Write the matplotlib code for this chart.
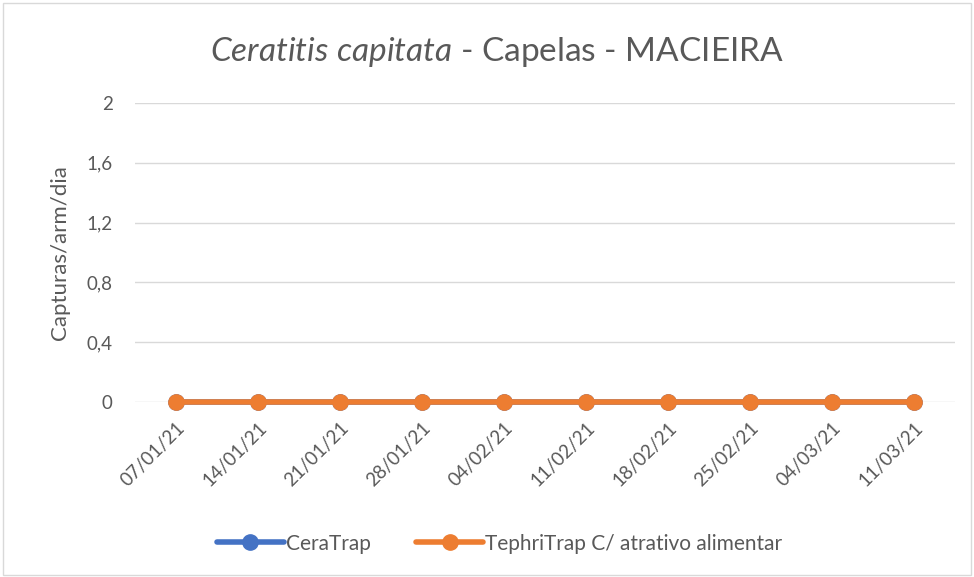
import matplotlib
matplotlib.use("Agg")
import matplotlib.pyplot as plt
from matplotlib.patches import Rectangle

plt.rcParams['font.family'] = ['Lato', 'DejaVu Sans']
plt.rcParams['mathtext.fontset'] = 'custom'
plt.rcParams['mathtext.rm'] = 'Lato'
plt.rcParams['mathtext.it'] = 'Lato:italic'

# data
dates = ["07/01/21", "14/01/21", "21/01/21", "28/01/21", "04/02/21",
         "11/02/21", "18/02/21", "25/02/21", "04/03/21", "11/03/21"]
ceratrap = [0, 0, 0, 0, 0, 0, 0, 0, 0, 0]
tephritrap = [0, 0, 0, 0, 0, 0, 0, 0, 0, 0]
yticks = [0, 0.4, 0.8, 1.2, 1.6, 2]
ytick_labels = ["0", "0,4", "0,8", "1,2", "1,6", "2"]

txt = "#595959"
fig = plt.figure(figsize=(9.74, 5.77), dpi=100)
fig.patches.append(Rectangle((0.003, 0.003), 0.994, 0.991, transform=fig.transFigure,
                             fill=False, edgecolor="#D9D9D9", linewidth=1))
ax = fig.add_axes([0.1386, 0.3033, 0.842, 0.5182])

x = range(len(dates))
ax.plot(x, ceratrap, color="#4472C4", linewidth=4, marker="o", markersize=11,
        label="CeraTrap", solid_capstyle="round", zorder=3, clip_on=False)
ax.plot(x, tephritrap, color="#ED7D31", linewidth=4, marker="o", markersize=11,
        label="TephriTrap C/ atrativo alimentar", solid_capstyle="round", zorder=4,
        clip_on=False)

ax.set_xlim(-0.5, len(dates) - 0.5)
ax.set_ylim(0, 2)
ax.set_yticks(yticks)
ax.set_yticklabels(ytick_labels)
ax.set_xticks(list(x))
ax.set_xticklabels(dates, rotation=45, ha="right", rotation_mode="anchor")
ax.grid(axis="y", color="#D9D9D9", linewidth=1)
ax.set_axisbelow(True)
for s in ax.spines.values():
    s.set_visible(False)
ax.tick_params(axis="both", length=0, labelsize=13.5, colors=txt, pad=12)
ax.tick_params(axis="y", pad=16)
ax.set_ylabel("Capturas/arm/dia", fontsize=16, color=txt, labelpad=12)

fig.text(0.51, 0.91, r"$\it{Ceratitis\ capitata}$ - Capelas - MACIEIRA",
         ha="center", va="center", fontsize=24, color=txt)

leg = fig.legend(loc="center", bbox_to_anchor=(0.513, 0.058), ncol=2, frameon=False,
                 fontsize=15, handlelength=3.2, columnspacing=2.2, handletextpad=0.1)
for t in leg.get_texts():
    t.set_color(txt)

fig.savefig("out.png", dpi=100)
